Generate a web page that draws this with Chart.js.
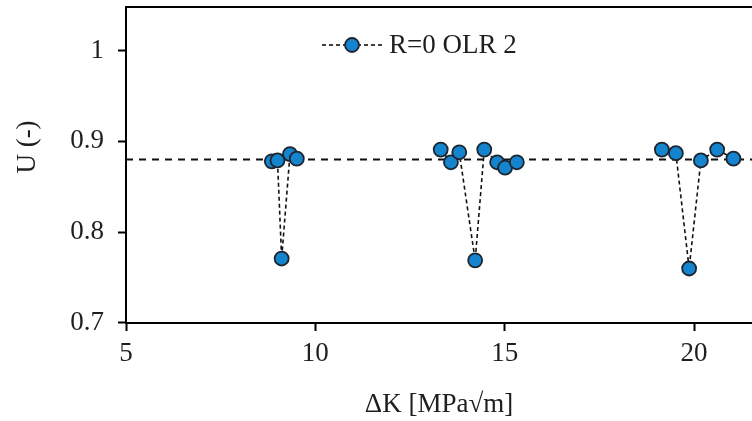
<!DOCTYPE html>
<html>
<head>
<meta charset="utf-8">
<script src="https://cdn.jsdelivr.net/npm/chart.js@4.4.1/dist/chart.umd.min.js"></script>
<style>
  html, body { margin: 0; padding: 0; background: #fff; }
  #chart-container { width: 752px; height: 421px; position: relative; }
</style>
</head>
<body>
<div id="chart-container"><canvas id="uChart" width="752" height="421"></canvas></div>
<script>
// Measured points, one array per loading block
const block1K = [8.85, 9.00, 9.11, 9.33, 9.51];
const block1U = [0.878, 0.879, 0.771, 0.886, 0.881];
const block2K = [13.31, 13.58, 13.80, 14.22, 14.46, 14.80, 15.01, 15.32];
const block2U = [0.891, 0.877, 0.888, 0.769, 0.891, 0.877, 0.871, 0.877];
const block3K = [19.15, 19.52, 19.87, 20.18, 20.61, 21.04];
const block3U = [0.891, 0.887, 0.760, 0.879, 0.891, 0.881];

// Average level line
const meanU = 0.88;

const seriesLabel = 'R=0 OLR 2';
const xTitle = 'ΔK [MPa√m]';
const yTitle = 'U (-)';
const xMin = 5, xMax = 21.53, xStep = 5;
const yMin = 0.7, yMax = 1.048, yStep = 0.1;

const FONT = "'Liberation Serif', 'Times New Roman', serif";
const FONT_SIZE = 27;
const TEXT_COLOR = '#1e1e1e';
const MARKER_FILL = '#1584CF';
const MARKER_EDGE = '#1d262e';

(function() {
    // join blocks with a null point so the dashed line breaks between them
    function buildSeries() {
        const blocks = [[block1K, block1U], [block2K, block2U], [block3K, block3U]];
        const pts = [];
        blocks.forEach((b, i) => {
            if (i > 0) pts.push({ x: (b[0][0] + pts[pts.length - 1].x) / 2, y: null });
            b[0].forEach((k, j) => pts.push({ x: k, y: b[1][j] }));
        });
        return pts;
    }

    // top frame line + legend + y title (rotated, placed like the original)
    const extras = {
        id: 'extras',
        afterDraw(chart) {
            const ctx = chart.ctx;
            const area = chart.chartArea;
            ctx.save();
            ctx.strokeStyle = '#000';
            ctx.lineWidth = 2;
            ctx.beginPath();
            ctx.moveTo(area.left - 1, area.top);
            ctx.lineTo(area.right, area.top);
            ctx.stroke();

            // legend
            const ly = 45;
            ctx.setLineDash([4, 3]);
            ctx.lineWidth = 1.6;
            ctx.beginPath();
            ctx.moveTo(322, ly);
            ctx.lineTo(382, ly);
            ctx.stroke();
            ctx.setLineDash([]);
            ctx.beginPath();
            ctx.arc(352, ly, 7, 0, Math.PI * 2);
            ctx.fillStyle = MARKER_FILL;
            ctx.fill();
            ctx.lineWidth = 1.8;
            ctx.strokeStyle = MARKER_EDGE;
            ctx.stroke();
            ctx.fillStyle = TEXT_COLOR;
            ctx.font = FONT_SIZE + 'px ' + FONT;
            ctx.textBaseline = 'middle';
            ctx.textAlign = 'left';
            ctx.fillText(seriesLabel, 389, ly + 1);

            // y title
            ctx.translate(28, 147);
            ctx.rotate(-Math.PI / 2);
            ctx.textAlign = 'center';
            ctx.fillText(yTitle, 0, 0);
            ctx.restore();
        }
    };

    const tickMarks = {
        display: true,
        drawOnChartArea: false,
        drawTicks: true,
        tickLength: 8,
        tickWidth: 2,
        tickColor: '#000'
    };

    const ctx = document.getElementById('uChart').getContext('2d');
    new Chart(ctx, {
        type: 'scatter',
        data: {
            datasets: [
                {
                    label: 'mean',
                    data: [{ x: xMin, y: meanU }, { x: xMax, y: meanU }],
                    showLine: true,
                    borderColor: '#111',
                    borderWidth: 2,
                    borderDash: [7, 6],
                    pointRadius: 0,
                    order: 2
                },
                {
                    label: seriesLabel,
                    data: buildSeries(),
                    showLine: true,
                    spanGaps: false,
                    borderColor: '#111',
                    borderWidth: 1.6,
                    borderDash: [4, 3],
                    pointRadius: 7,
                    pointBackgroundColor: MARKER_FILL,
                    pointBorderColor: MARKER_EDGE,
                    pointBorderWidth: 1.8,
                    order: 1
                }
            ]
        },
        options: {
            responsive: false,
            animation: false,
            layout: { autoPadding: false, padding: { top: 7, right: 0, left: 0, bottom: 0 } },
            plugins: {
                legend: { display: false },
                tooltip: { enabled: false }
            },
            scales: {
                x: {
                    type: 'linear',
                    min: xMin,
                    max: xMax,
                    afterFit(scale) {
                        scale.height = 98;
                        scale.paddingLeft = 0;
                        scale.paddingRight = 0;
                    },
                    ticks: {
                        stepSize: xStep,
                        includeBounds: false,
                        color: TEXT_COLOR,
                        padding: 7,
                        maxRotation: 0,
                        font: { family: FONT, size: FONT_SIZE }
                    },
                    grid: tickMarks,
                    border: { display: true, color: '#000', width: 2 },
                    title: {
                        display: true,
                        text: xTitle,
                        color: TEXT_COLOR,
                        font: { family: FONT, size: FONT_SIZE },
                        padding: { top: 0, bottom: 0 }
                    }
                },
                y: {
                    type: 'linear',
                    min: yMin,
                    max: yMax,
                    afterFit(scale) {
                        scale.width = 126;
                        scale.paddingTop = 0;
                        scale.paddingBottom = 0;
                    },
                    ticks: {
                        stepSize: yStep,
                        includeBounds: false,
                        color: TEXT_COLOR,
                        padding: 14,
                        font: { family: FONT, size: FONT_SIZE },
                        callback: v => Number(v.toFixed(2)).toString()
                    },
                    grid: tickMarks,
                    border: { display: true, color: '#000', width: 2 }
                }
            }
        },
        plugins: [extras]
    });
})();
</script>
</body>
</html>
